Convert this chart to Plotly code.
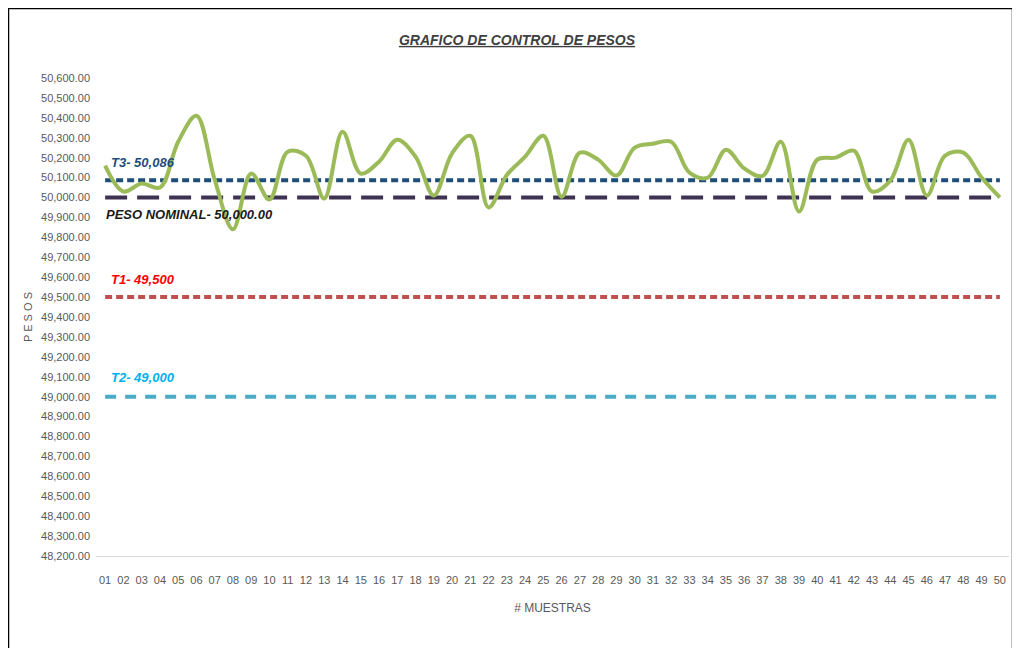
import plotly.graph_objects as go

muestras = list(range(1, 51))
etiquetas = [f"{i:02d}" for i in muestras]
pesos = [50160, 50030, 50070, 50050, 50280, 50410, 50090, 49840, 50120, 49990,
         50230, 50210, 49995, 50330, 50120, 50180, 50290, 50205, 50010, 50222,
         50310, 49950, 50113, 50205, 50310, 50004, 50225, 50190, 50110, 50250,
         50270, 50280, 50125, 50100, 50240, 50146, 50108, 50280, 49930, 50190,
         50200, 50235, 50030, 50085, 50290, 50010, 50210, 50225, 50100, 50000]
t3 = 50086
nominal = 50000
t1 = 49500
t2 = 49000
yticks = list(range(48200, 50601, 100))

FONT = "Liberation Sans, Arial, sans-serif"

fig = go.Figure()
fig.add_trace(go.Scatter(x=muestras, y=[t3] * 50, mode="lines",
                         line=dict(color="#1F4E79", width=4, dash="7px,4px"), hoverinfo="skip"))
fig.add_trace(go.Scatter(x=muestras, y=[nominal] * 50, mode="lines",
                         line=dict(color="#3F3151", width=4, dash="22px,10px"), hoverinfo="skip"))
fig.add_trace(go.Scatter(x=muestras, y=[t1] * 50, mode="lines",
                         line=dict(color="#C0504D", width=4, dash="7px,4px"), hoverinfo="skip"))
fig.add_trace(go.Scatter(x=muestras, y=[t2] * 50, mode="lines",
                         line=dict(color="#4BACC6", width=4, dash="11px,9px"), hoverinfo="skip"))
fig.add_trace(go.Scatter(x=muestras, y=pesos, mode="lines",
                         line=dict(color="#9BBB59", width=4, shape="spline", smoothing=1)))

ann = [
    (1, t3, "T3- 50,086", "#1F4E79", 18, 4),
    (1, nominal, "PESO NOMINAL- 50,000.00", "#1a1a1a", -17, -1),
    (1, t1, "T1- 49,500", "#FF0000", 18, 4),
    (1, t2, "T2- 49,000", "#00B0F0", 19, 4),
]
for x, y, txt, col, ys, xs in ann:
    fig.add_annotation(x=x, y=y, text=f"<b><i>{txt}</i></b>", showarrow=False,
                       xanchor="left", yanchor="middle", xshift=xs, yshift=ys,
                       font=dict(family=FONT, size=13, color=col))

# outer frame (figure is placed 8px inside the page)
fig.add_shape(type="rect", xref="paper", yref="paper",
              x0=-88 / 913, x1=(1005 - 88) / 913, y0=-0.3, y1=1 + 70 / 478,
              line=dict(color="black", width=2.5), fillcolor="rgba(0,0,0,0)")

fig.update_layout(
    width=1012, height=640,
    paper_bgcolor="white", plot_bgcolor="white",
    showlegend=False,
    margin=dict(l=88, r=11, t=70, b=92, autoexpand=False),
    title=dict(text="<b><i><u>GRAFICO DE CONTROL DE PESOS</u></i></b>",
               x=(517 - 8) / 1012, xanchor="center", y=1 - 32 / 640, yanchor="middle",
               font=dict(family=FONT, size=14, color="#404040")),
    xaxis=dict(range=[0.5, 50.5], tickvals=muestras, ticktext=etiquetas,
               showgrid=False, zeroline=False, showline=True, linecolor="#D9D9D9",
               linewidth=1, ticks="", ticklabelstandoff=14,
               tickfont=dict(family=FONT, size=11, color="#595959"),
               title=dict(text="# MUESTRAS", standoff=18,
                          font=dict(family=FONT, size=12, color="#595959"))),
    yaxis=dict(range=[48200, 50600], tickvals=yticks, tickformat=",.2f",
               showgrid=False, zeroline=False, showline=False, ticks="",
               ticklabelstandoff=5,
               tickfont=dict(family=FONT, size=11, color="#595959"),
               title=dict(text="P E S O S", standoff=6,
                          font=dict(family=FONT, size=11, color="#595959"))),
)

fig.write_html("out.html")
